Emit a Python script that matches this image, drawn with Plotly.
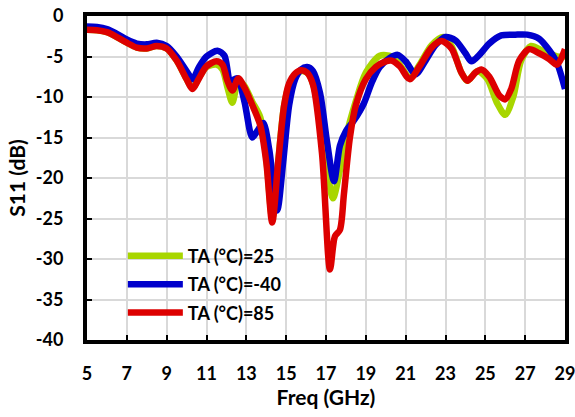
import plotly.graph_objects as go

freq_25 = [5.0, 5.5, 6.0, 6.5, 7.0, 7.5, 8.0, 8.5, 9.0, 9.5, 10.0, 10.3, 10.6, 11.0, 11.5, 11.8, 12.05, 12.3, 12.6,
           12.9, 13.3, 13.7, 14.0, 14.3, 14.6, 14.9, 15.2, 15.5, 15.8, 16.1, 16.4, 16.9, 17.35, 17.7, 18.0, 18.5, 19.0,
           19.7, 20.3, 20.7, 21.2, 21.7, 22.3, 22.9, 23.3, 23.8, 24.1, 24.6, 25.1, 25.6, 26.0, 26.4, 26.8, 27.3,
           27.8, 28.2, 28.6, 29.0]
s11_25 = [-1.7, -1.75, -2.0, -2.6, -3.3, -3.9, -4.0, -3.7, -4.0, -5.5, -7.8, -8.9, -7.7, -6.3, -6.0, -6.6, -8.8, -10.7, -8.0,
          -8.6, -10.6, -12.5, -17.5, -25.0, -18.0, -11.0, -8.2, -7.2, -6.8, -7.1, -8.8, -16.0, -22.5, -19.0, -15.0, -10.5, -7.0,
          -4.9, -5.0, -6.0, -7.6, -6.0, -3.6, -2.6, -3.7, -7.0, -8.0, -6.8, -7.8, -10.8, -12.2, -10.0, -5.5, -3.7,
          -4.2, -4.6, -5.0, -5.0]

freq_m40 = [5.0, 5.5, 6.0, 6.5, 7.0, 7.5, 8.0, 8.5, 9.0, 9.5, 10.0, 10.3, 10.6, 11.0, 11.55, 11.9, 12.2, 12.55,
            12.9, 13.3, 13.55, 13.85, 14.15, 14.55, 14.85, 15.15, 15.45, 15.75, 16.05, 16.35, 16.7, 17.05, 17.4, 17.7, 18.0,
            18.4, 18.9, 19.3, 19.7, 20.2, 20.6, 21.0, 21.5, 22.0, 22.5, 23.0, 23.5, 24.0, 24.3, 24.7, 25.2, 25.8,
            26.5, 27.1, 27.7, 28.2, 28.6, 29.0]
s11_m40 = [-1.3, -1.35, -1.6, -2.2, -2.9, -3.4, -3.5, -3.3, -3.7, -5.0, -6.8, -7.8, -6.4, -5.0, -4.3, -4.9, -8.0, -7.7,
           -10.5, -15.0, -14.2, -13.2, -16.5, -24.0, -18.0, -11.0, -7.8, -6.6, -6.3, -6.8, -9.5, -15.5, -20.4, -16.0, -14.2,
           -12.9, -10.8, -8.2, -6.3, -5.2, -4.8, -5.6, -7.2, -5.5, -3.6, -2.6, -3.0, -4.6, -5.6, -4.8, -3.4, -2.4,
           -2.3, -2.3, -2.8, -4.2, -5.8, -9.0]

freq_85 = [5.0, 5.5, 6.0, 6.5, 7.0, 7.5, 8.0, 8.5, 9.0, 9.5, 10.0, 10.3, 10.6, 11.0, 11.5, 11.8, 12.05, 12.3, 12.6,
           12.9, 13.3, 13.7, 14.0, 14.3, 14.6, 14.9, 15.15, 15.45, 15.75, 16.05, 16.35, 16.8, 17.2, 17.45, 17.7, 17.9, 18.2,
           18.5, 19.0, 19.5, 20.0, 20.3, 20.7, 21.2, 21.7, 22.3, 22.8, 23.3, 23.8, 24.1, 24.5, 24.8, 25.2, 25.7,
           26.0, 26.3, 26.7, 27.2, 27.7, 28.2, 28.6, 29.0]
s11_85 = [-1.7, -1.75, -2.0, -2.6, -3.3, -3.9, -4.0, -3.7, -4.0, -5.5, -7.8, -9.0, -7.8, -6.2, -5.6, -6.0, -8.0, -9.2, -7.7,
          -8.8, -11.0, -13.5, -18.0, -25.5, -18.0, -11.0, -8.3, -7.1, -6.7, -7.0, -8.5, -17.0, -31.3, -27.2, -26.4, -22.0, -15.0,
          -11.0, -7.8, -6.3, -5.6, -5.5, -6.2, -7.8, -6.2, -3.9, -3.1, -4.0, -7.0, -8.0, -7.0, -6.6, -7.5, -9.8,
          -10.3, -9.0, -5.5, -4.1, -4.6, -5.3, -6.0, -4.1]

x_ticks = [5, 7, 9, 11, 13, 15, 17, 19, 21, 23, 25, 27, 29]
y_ticks = [0, -5, -10, -15, -20, -25, -30, -35, -40]

FONT = "Lato"

fig = go.Figure()
series = [
    (freq_25, s11_25, "TA (°C)=25", "#a8d600"),
    (freq_m40, s11_m40, "TA (°C)=-40", "#0000cc"),
    (freq_85, s11_85, "TA (°C)=85", "#dd0000"),
]
for i, (fx, sy, name, color) in enumerate(series):
    fig.add_trace(go.Scatter(
        x=fx, y=sy, name=name, mode="lines", legendgroup=f"g{i}",
        line=dict(color=color, width=6.5, shape="spline", smoothing=0.8),
    ))

axis_common = dict(
    showgrid=True, gridcolor="#d9d9d9", gridwidth=2,
    showline=True, linecolor="black", linewidth=4, mirror=True,
    ticks="inside", ticklen=5, tickwidth=1.5, tickcolor="black",
    tickfont=dict(family=FONT, size=18, color="black", weight="bold"),
    zeroline=False, automargin=False, ticklabeloverflow="allow",
)

fig.update_xaxes(
    range=[5, 29], tickvals=x_ticks, ticktext=[str(v) for v in x_ticks],
    ticklabelstandoff=14,
    title=dict(text="<b>Freq (GHz)</b>", font=dict(family=FONT, size=21, color="black"), standoff=5),
    **axis_common,
)
fig.update_yaxes(
    range=[-40, 0], tickvals=y_ticks, ticktext=[str(v) for v in y_ticks],
    ticklabelstandoff=16,
    title=dict(text="<b>S11 (dB)</b>", font=dict(family=FONT, size=21, color="black"), standoff=5),
    **axis_common,
)

# white legend box covering gridlines
fig.add_shape(type="rect", xref="paper", yref="paper",
              x0=0.017, x1=0.46, y0=0.031, y1=0.302,
              fillcolor="white", line=dict(width=0), layer="between")

fig.update_layout(
    width=575, height=417,
    margin=dict(l=87, r=10, t=16, b=77),
    plot_bgcolor="white", paper_bgcolor="white",
    showlegend=True,
    legend=dict(
        x=0.075, y=0.316, xanchor="left", yanchor="top",
        bgcolor="rgba(0,0,0,0)", borderwidth=0,
        font=dict(family=FONT, size=18, color="black", weight="bold"),
        tracegroupgap=2, itemwidth=55,
    ),
)

fig.write_html("out.html", config={"displayModeBar": False},
               post_script="document.body.style.margin='0';")
